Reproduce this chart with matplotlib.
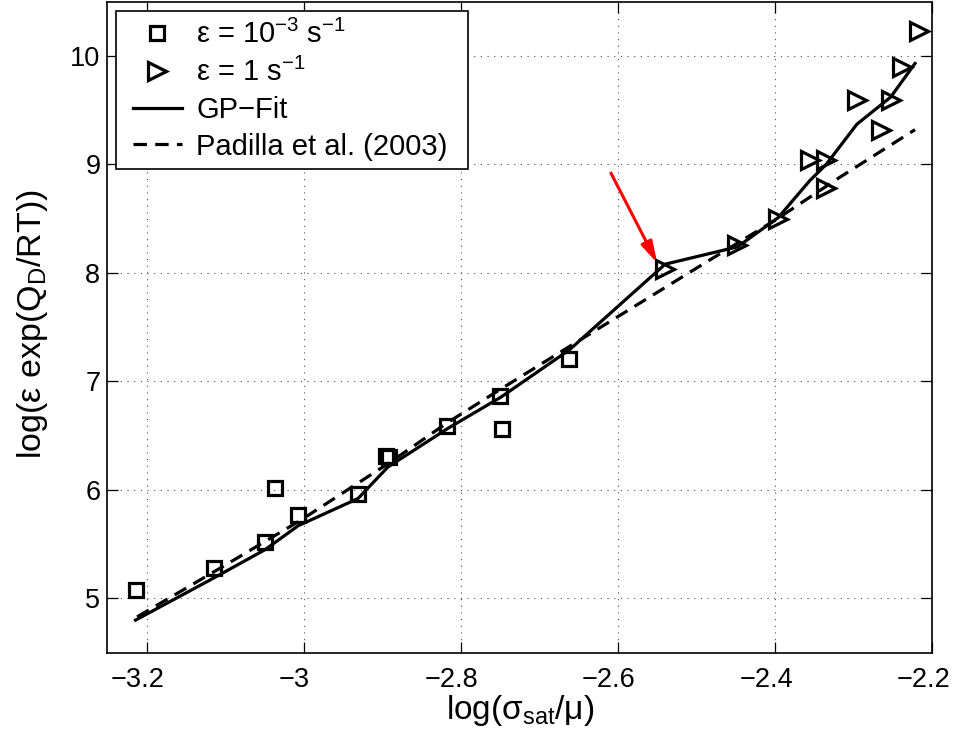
import matplotlib
matplotlib.use('Agg')
import matplotlib.pyplot as plt
from matplotlib.patches import Rectangle
from matplotlib.transforms import ScaledTranslation


# strain rate 1e-3 1/s
SLOW_X = [-3.214, -3.114, -3.049, -3.036, -3.007, -2.931, -2.895, -2.892,
          -2.817, -2.750, -2.747, -2.662]
SLOW_Y = [5.08, 5.28, 5.52, 6.02, 5.77, 5.96, 6.31, 6.30,
          6.59, 6.87, 6.56, 7.21]

# strain rate 1 1/s
FAST_X = [-2.540, -2.448, -2.396, -2.356, -2.335, -2.335, -2.296, -2.265,
          -2.253, -2.239, -2.217]
FAST_Y = [8.04, 8.26, 8.50, 9.04, 9.04, 8.78, 9.59, 9.32,
          9.59, 9.90, 10.23]

GP_X = [-3.214, -3.114, -3.049, -3.007, -2.931, -2.893, -2.817, -2.749,
        -2.662, -2.540, -2.448, -2.396, -2.356, -2.335, -2.296, -2.253, -2.222]
GP_Y = [4.80, 5.19, 5.45, 5.67, 5.92, 6.21, 6.565, 6.855,
        7.29, 8.08, 8.24, 8.51, 8.85, 9.00, 9.37, 9.62, 9.93]

PADILLA_X = [-3.212, -3.106, -3.004, -2.891, -2.817, -2.749, -2.660, -2.586,
             -2.483, -2.399, -2.318, -2.222]
PADILLA_Y = [4.83, 5.28, 5.72, 6.25, 6.62, 6.93, 7.33, 7.66,
             8.12, 8.49, 8.88, 9.32]

X_TICKS = [-3.2, -3.0, -2.8, -2.6, -2.4, -2.2]
X_TICK_LABELS = ['\u22123.2', '\u22123', '\u22122.8', '\u22122.6', '\u22122.4', '\u22122.2']
Y_TICKS = [5, 6, 7, 8, 9, 10]
Y_TICK_LABELS = ['5', '6', '7', '8', '9', '10']

# arrow pointing at the kink of the fit
ARROW_FROM = (-2.609, 8.92)
ARROW_TO = (-2.550, 8.09)

plt.rcParams['font.family'] = ['Liberation Sans', 'DejaVu Sans']
plt.rcParams['mathtext.fontset'] = 'custom'
plt.rcParams['mathtext.rm'] = 'Liberation Sans'
plt.rcParams['mathtext.it'] = 'Liberation Sans'

fig = plt.figure(figsize=(9.56, 7.42), dpi=100)
ax = fig.add_axes([0.1122, 0.1204, 0.8630, 0.8774])

ax.plot(SLOW_X, SLOW_Y, linestyle='none', marker='s', ms=9.5, mew=2.3,
        mfc='none', mec='black', label='\u03b5 = 10$^{\\mathregular{\u22123}}$ s$^{\\mathregular{\u22121}}$')
ax.plot(FAST_X, FAST_Y, linestyle='none', marker='>', ms=13, mew=2.3,
        mfc='none', mec='black', label='\u03b5 = 1 s$^{\\mathregular{\u22121}}$')
ax.plot(GP_X, GP_Y, color='black', lw=2.3, label='GP\u2212Fit')
ax.plot(PADILLA_X, PADILLA_Y, color='black', lw=2.3, dashes=(4.2, 2.6),
        label='Padilla et al. (2003)')

ax.annotate('', xy=ARROW_TO, xytext=ARROW_FROM,
            arrowprops=dict(arrowstyle='-|>,head_length=0.8,head_width=0.22',
                            color='red', lw=2.2, mutation_scale=16,
                            shrinkA=0, shrinkB=0))

ax.set_xlim(-3.25, -2.2)
ax.set_ylim(4.5, 10.5)
ax.set_xticks(X_TICKS)
ax.set_xticklabels(X_TICK_LABELS)
ax.set_yticks(Y_TICKS)
ax.set_yticklabels(Y_TICK_LABELS)
ax.tick_params(direction='in', length=8, width=0.9, top=True, right=True,
               labelsize=19.5)
ax.tick_params(axis='x', pad=10)
ax.tick_params(axis='y', pad=5)
# x tick labels sit a little left of their ticks
shift = ScaledTranslation(-0.09, 0, fig.dpi_scale_trans)
for lbl in ax.get_xticklabels():
    lbl.set_transform(lbl.get_transform() + shift)
for spine in ax.spines.values():
    spine.set_linewidth(1.2)

ax.grid(True, color='0.3', linestyle=(0, (1, 5)), linewidth=0.8)

ax.set_xlabel('log(\u03c3$_\\mathregular{sat}$/\u03bc)', fontsize=24, labelpad=0)
ax.set_ylabel('log(\u03b5 exp(Q$_\\mathregular{D}$/RT))', fontsize=24.5)
ax.yaxis.set_label_coords(-0.07, 0.505)

# legend frame drawn separately so the padding can differ per side
ax.add_patch(Rectangle((0.0105, 0.743), 0.4267, 0.2427, transform=ax.transAxes,
                       facecolor='white', edgecolor='black', lw=1.2, zorder=4))
leg = ax.legend(loc='upper left', bbox_to_anchor=(0.0308, 0.972),
                borderaxespad=0, borderpad=0, fontsize=21, handlelength=1.68,
                handletextpad=0.5, labelspacing=0.3, frameon=False)
leg.set_zorder(5)

fig.savefig('out.png', dpi=100)
